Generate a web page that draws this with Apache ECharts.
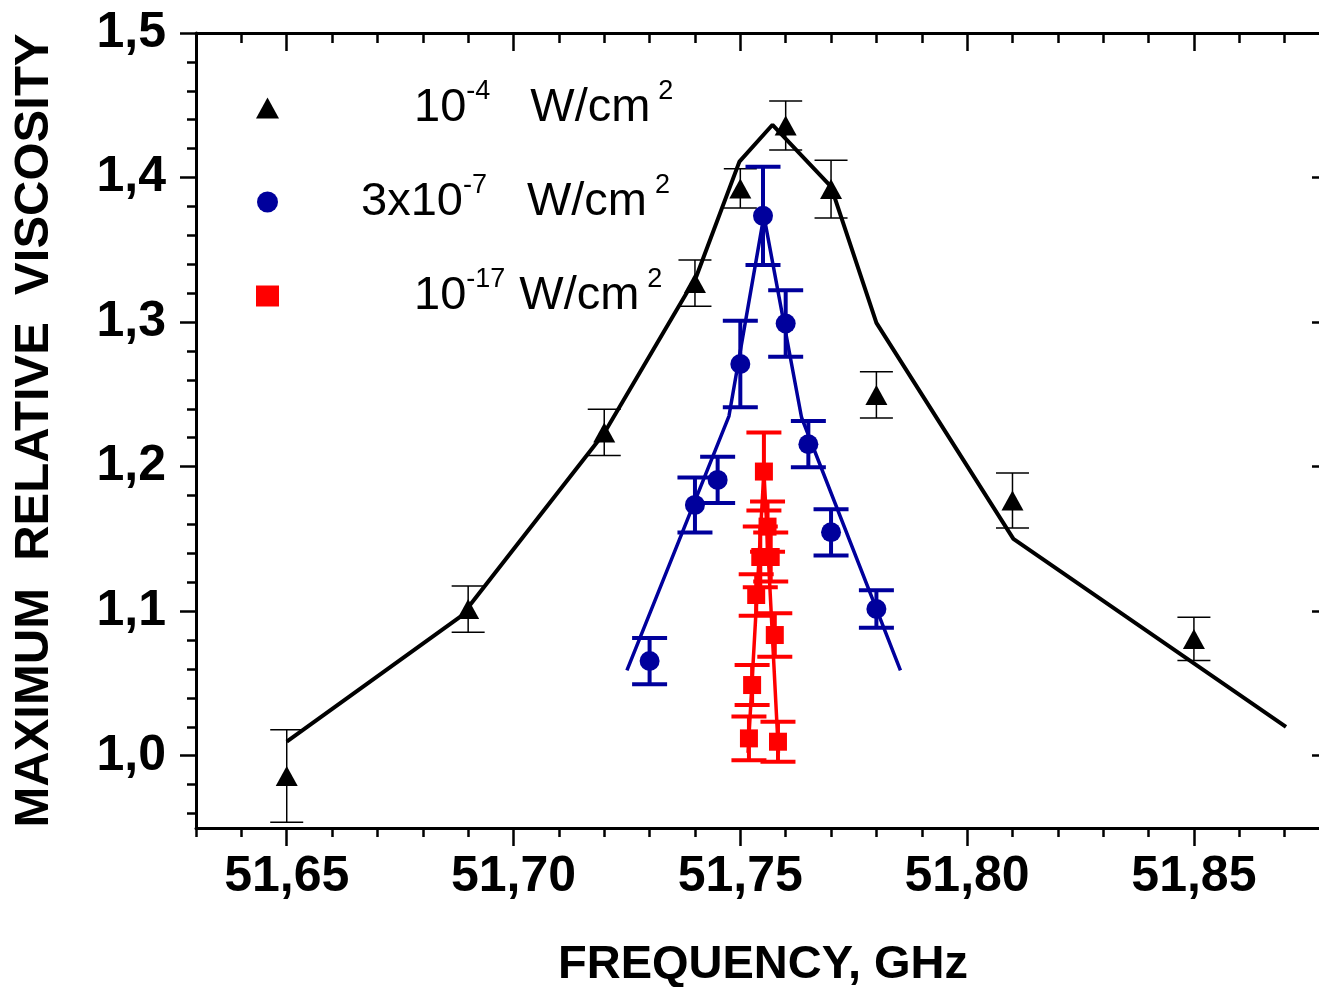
<!DOCTYPE html>
<html>
<head>
<meta charset="utf-8">
<script src="https://cdn.jsdelivr.net/npm/echarts@6/dist/echarts.min.js"></script>
<style>
  html, body { margin: 0; padding: 0; background: #fff; }
  #chart { width: 1319px; height: 987px; }
</style>
</head>
<body>
<div id="chart"></div>
<script>
// Tick labels
const xTickLabels = [51.65, 51.70, 51.75, 51.80, 51.85];
const yTickLabels = [1.0, 1.1, 1.2, 1.3, 1.4, 1.5];

// 1e-4 W/cm2 : measured maxima (GHz, relative viscosity, error) and model curve
const freqHigh = [51.65, 51.69, 51.72, 51.74, 51.75, 51.76, 51.77, 51.78, 51.81, 51.85];
const viscHigh = [0.986, 1.1015, 1.2237, 1.327, 1.3925, 1.436, 1.392, 1.2496, 1.1766, 1.0808];
const errHigh  = [0.032, 0.016, 0.016, 0.016, 0.0135, 0.017, 0.020, 0.016, 0.019, 0.015];
const curveHighFreq = [51.65, 51.6886, 51.72, 51.7403, 51.7498, 51.7571, 51.77, 51.78, 51.8102, 51.8703];
const curveHighVisc = [1.0097, 1.097, 1.2233, 1.3315, 1.411, 1.4365, 1.3938, 1.2995, 1.150, 1.0199];

// 3x10^-7 W/cm2
const freqMid = [51.73, 51.74, 51.745, 51.75, 51.755, 51.76, 51.765, 51.77, 51.78];
const viscMid = [1.0655, 1.1735, 1.1908, 1.271, 1.3735, 1.299, 1.2155, 1.1546, 1.1015];
const errMid  = [0.016, 0.019, 0.016, 0.030, 0.034, 0.023, 0.016, 0.016, 0.013];
const curveMidFreq = [51.725, 51.7475, 51.7552, 51.7635, 51.7853];
const curveMidVisc = [1.059, 1.235, 1.3735, 1.234, 1.059];

// 10^-17 W/cm2
const freqLow = [51.7552, 51.756, 51.7544, 51.7567, 51.7535, 51.7576, 51.7526, 51.7519, 51.7583];
const viscLow = [1.1966, 1.1585, 1.1375, 1.1375, 1.1112, 1.0835, 1.0489, 1.012, 1.0097];
const errLow  = [0.027, 0.0173, 0.021, 0.017, 0.0143, 0.015, 0.0138, 0.0152, 0.0138];
const curveLowFreq = [51.7517, 51.7552, 51.7584];
const curveLowVisc = [1.002, 1.1966, 1.002];

const names = ['1e-4 W/cm2', '3e-7 W/cm2', '1e-17 W/cm2'];

const FONT = 'Liberation Sans, Arial, sans-serif';
const BLUE = '#00009c';
const RED = '#ff0000';

// minor tick positions: every 0.01 GHz and every 0.02 in viscosity
const xMinor = [];
for (let k = 5163; k <= 5188; k++) xMinor.push(k / 100);
const yMinor = [];
for (let k = 48; k <= 75; k++) yMinor.push(+(k * 0.02).toFixed(2));

const pairs = (xs, ys) => xs.map((x, i) => [x, ys[i]]);
const bars = (xs, ys, es) => xs.map((x, i) => [x, ys[i] - es[i], ys[i] + es[i]]);

function errorBars(halfCap, width, color) {
  return function (params, api) {
    const x = api.value(0);
    const lo = api.coord([x, api.value(1)]);
    const hi = api.coord([x, api.value(2)]);
    const style = { stroke: color, lineWidth: width, fill: null };
    return {
      type: 'group',
      children: [
        { type: 'line', shape: { x1: lo[0], y1: lo[1], x2: hi[0], y2: hi[1] }, style: style },
        { type: 'line', shape: { x1: lo[0] - halfCap, y1: lo[1], x2: lo[0] + halfCap, y2: lo[1] }, style: style },
        { type: 'line', shape: { x1: hi[0] - halfCap, y1: hi[1], x2: hi[0] + halfCap, y2: hi[1] }, style: style }
      ]
    };
  };
}

const tickStyle = { color: '#000', width: 2.5 };
const lineStyle = { color: '#000', width: 3 };
const X_MIN = 51.63, X_MAX = 51.88, Y_MIN = 0.95, Y_MAX = 1.5;

function xAxis(position, ticks, len, inside, extra) {
  return Object.assign({
    type: 'value', position: position, min: X_MIN, max: X_MAX,
    axisLine: { show: false, lineStyle: lineStyle },
    axisTick: { show: true, inside: inside, length: len, lineStyle: tickStyle, customValues: ticks },
    axisLabel: { show: false },
    splitLine: { show: false }
  }, extra || {});
}
function yAxis(position, ticks, len, inside, extra) {
  return Object.assign({
    type: 'value', position: position, min: Y_MIN, max: Y_MAX,
    axisLine: { show: false, lineStyle: lineStyle },
    axisTick: { show: true, inside: inside, length: len, lineStyle: tickStyle, customValues: ticks },
    axisLabel: { show: false },
    splitLine: { show: false }
  }, extra || {});
}

const legendText = {};
legendText[names[0]] = '{p1| }{n|10}{s|-4}{g1| }{n|W/cm}{s2|2}';
legendText[names[1]] = '{p2| }{n|3x10}{s|-7}{g1| }{n|W/cm}{s2|2}';
legendText[names[2]] = '{p1| }{n|10}{s|-17}{g3| }{n|W/cm}{s2|2}';

const option = {
  animation: false,
  backgroundColor: '#fff',
  grid: { left: 196, top: 33, right: -11, bottom: 159, containLabel: false, outerBoundsMode: 'none' },
  legend: {
    data: names,
    orient: 'vertical',
    left: 251,
    top: 73,
    itemGap: 34,
    itemWidth: 23,
    itemHeight: 21,
    formatter: function (name) { return legendText[name]; },
    textStyle: {
      fontFamily: FONT, fontSize: 47, lineHeight: 60, color: '#000',
      rich: {
        n: { fontFamily: FONT, fontSize: 47, lineHeight: 60, color: '#000' },
        s: { fontFamily: FONT, fontSize: 27, lineHeight: 22, verticalAlign: 'top', color: '#000' },
        s2: { fontFamily: FONT, fontSize: 27, lineHeight: 22, verticalAlign: 'top', color: '#000', padding: [0, 0, 0, 8] },
        p1: { width: 130 },
        p2: { width: 77 },
        g1: { width: 40 },
        g3: { width: 14 }
      }
    }
  },
  xAxis: [
    xAxis('bottom', xMinor, 9, false, {
      axisLine: { show: true, lineStyle: lineStyle },
      axisLabel: {
        show: true, customValues: xTickLabels, margin: 24,
        fontFamily: FONT, fontSize: 50, fontWeight: 'bold', color: '#000',
        formatter: function (v) { return v.toFixed(2).replace('.', ','); }
      },
      name: 'FREQUENCY, GHz', nameLocation: 'middle', nameGap: 114,
      nameTextStyle: { fontFamily: FONT, fontSize: 47, fontWeight: 'bold', color: '#000' }
    }),
    xAxis('bottom', xTickLabels, 18, false),
    xAxis('top', xMinor, 10, true, { axisLine: { show: true, lineStyle: lineStyle } }),
    xAxis('top', xTickLabels, 18, true)
  ],
  yAxis: [
    yAxis('left', yMinor, 9, false, {
      axisLine: { show: true, lineStyle: lineStyle },
      axisLabel: {
        show: true, customValues: yTickLabels, margin: 30,
        fontFamily: FONT, fontSize: 50, fontWeight: 'bold', color: '#000',
        formatter: function (v) { return v.toFixed(1).replace('.', ','); }
      },
      name: 'MAXIMUM  RELATIVE  VISCOSITY', nameLocation: 'middle', nameGap: 137,
      nameTextStyle: { fontFamily: FONT, fontSize: 49, fontWeight: 'bold', color: '#000' }
    }),
    yAxis('left', yTickLabels, 16, false),
    yAxis('right', yMinor, 10, true, { axisLine: { show: true, lineStyle: lineStyle } }),
    yAxis('right', yTickLabels, 18, true)
  ],
  series: [
    {
      type: 'line', data: pairs(curveHighFreq, curveHighVisc), showSymbol: false, symbol: 'none',
      lineStyle: { color: '#000', width: 4 }, itemStyle: { color: '#000' }
    },
    {
      type: 'custom', data: bars(freqHigh, viscHigh, errHigh),
      renderItem: errorBars(16.5, 1.5, '#000'), encode: { x: 0, y: [1, 2] }
    },
    {
      name: names[0], type: 'scatter', data: pairs(freqHigh, viscHigh),
      symbol: 'triangle', symbolSize: [22, 20], itemStyle: { color: '#000', opacity: 1 }
    },
    {
      type: 'line', data: pairs(curveMidFreq, curveMidVisc), showSymbol: false, symbol: 'none',
      lineStyle: { color: BLUE, width: 3.5 }, itemStyle: { color: BLUE }
    },
    {
      type: 'custom', data: bars(freqMid, viscMid, errMid),
      renderItem: errorBars(17.5, 4, BLUE), encode: { x: 0, y: [1, 2] }
    },
    {
      name: names[1], type: 'scatter', data: pairs(freqMid, viscMid),
      symbol: 'circle', symbolSize: 20, itemStyle: { color: BLUE, opacity: 1 }
    },
    {
      type: 'line', data: pairs(curveLowFreq, curveLowVisc), showSymbol: false, symbol: 'none',
      lineStyle: { color: RED, width: 3.5 }, itemStyle: { color: RED }
    },
    {
      type: 'custom', data: bars(freqLow, viscLow, errLow),
      renderItem: errorBars(17.5, 4, RED), encode: { x: 0, y: [1, 2] }
    },
    {
      name: names[2], type: 'scatter', data: pairs(freqLow, viscLow),
      symbol: 'rect', symbolSize: 18, itemStyle: { color: RED, opacity: 1 }
    }
  ]
};

const chart = echarts.init(document.getElementById('chart'), null, { renderer: 'canvas' });
chart.setOption(option);
</script>
</body>
</html>
